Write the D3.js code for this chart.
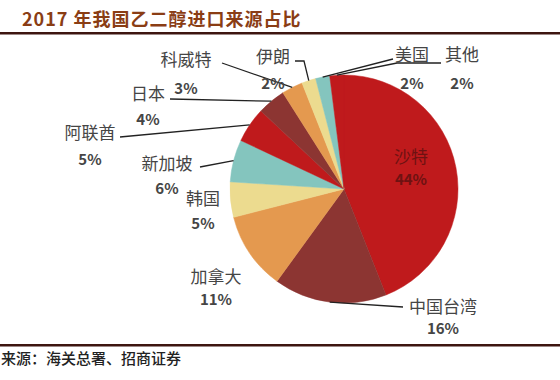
<!DOCTYPE html>
<html>
<head>
<meta charset="utf-8">
<script src="https://cdn.jsdelivr.net/npm/d3@7/dist/d3.min.js"></script>
<style>
  html, body { margin: 0; padding: 0; background: #fff; }
  svg { display: block; }
</style>
</head>
<body>
<svg id="chart" width="560" height="380"></svg>
<script>
// ---- data ----
const categories = ["沙特", "中国台湾", "加拿大", "韩国", "新加坡", "阿联酋", "日本", "科威特", "伊朗", "美国", "其他"];
const shares = [44, 16, 11, 5, 6, 5, 4, 3, 2, 2, 2];
const percentLabels = ["44%", "16%", "11%", "5%", "6%", "5%", "4%", "3%", "2%", "2%", "2%"];
const titleText = "2017 年我国乙二醇进口来源占比";
const sourceText = "来源：海关总署、招商证券";

// ---- styles / layout ----
const palette = ["#bf1a1c", "#8c3532", "#e4994f", "#ecdb8f", "#84c5be"];
const cx = 344, cy = 189, R = 114;
// label anchor (name centre) and optional leader polyline points near the label
const labelLayout = [
  {x: 411, y: 155, py: 178, color: "#6e1212", lead: null},
  {x: 443, y: 305, py: 327, lead: [[403, 307]]},
  {x: 216, y: 275, py: 298, lead: null},
  {x: 203, y: 197, py: 222, lead: null},
  {x: 167, y: 162, py: 187, lead: [[200, 167]]},
  {x: 90,  y: 131, py: 158, lead: [[120, 137]]},
  {x: 148, y: 92,  py: 118, lead: [[170, 99]]},
  {x: 186, y: 58,  py: 87,  lead: [[222, 63]]},
  {x: 273, y: 55,  py: 82,  lead: [[295, 61], [304, 61]]},
  {x: 412, y: 53,  py: 82,  lead: [[393, 59]]},
  {x: 462, y: 53,  py: 82,  lead: [[441, 63], [397, 63]]}
];

const svg = d3.select("#chart");

// title
svg.append("text")
  .attr("x", 22).attr("y", 18)
  .attr("dominant-baseline", "central")
  .attr("font-family", "'Noto Sans CJK SC', sans-serif")
  .attr("font-weight", "bold")
  .attr("font-size", 18)
  .attr("letter-spacing", 1)
  .attr("fill", "#8a3d14")
  .text(titleText);

svg.append("rect").attr("x", 0).attr("y", 32).attr("width", 560).attr("height", 2.5).attr("fill", "#3d1510");
svg.append("rect").attr("x", 0).attr("y", 344).attr("width", 560).attr("height", 2.5).attr("fill", "#3d1510");

svg.append("text")
  .attr("x", 1).attr("y", 357)
  .attr("dominant-baseline", "central")
  .attr("font-family", "'Noto Sans CJK SC', sans-serif")
  .attr("font-weight", 500)
  .attr("font-size", 15)
  .attr("fill", "#222")
  .text(sourceText);

// pie
const pie = d3.pie().sort(null).value(d => d.v);
const data = categories.map((c, i) => ({c, v: shares[i], p: percentLabels[i], i}));
const arcs = pie(data);
const arc = d3.arc().innerRadius(0).outerRadius(R);

const g = svg.append("g").attr("transform", `translate(${cx},${cy})`);
g.selectAll("path.slice").data(arcs).join("path")
  .attr("class", "slice")
  .attr("d", arc)
  .attr("fill", d => palette[d.index % palette.length])
  .attr("stroke", d => palette[d.index % palette.length])
  .attr("stroke-width", 0.5);

// leader lines
const line = d3.line();
arcs.forEach((a, i) => {
  const L = labelLayout[i];
  if (!L.lead) return;
  const mid = (a.startAngle + a.endAngle) / 2;
  const end = [cx + R * Math.sin(mid), cy - R * Math.cos(mid)];
  svg.append("path")
    .attr("d", line([...L.lead, end]))
    .attr("fill", "none")
    .attr("stroke", "#222")
    .attr("stroke-width", 1.3);
});

// labels
arcs.forEach((a, i) => {
  const L = labelLayout[i];
  const col = L.color || "#454545";
  svg.append("text")
    .attr("x", L.x).attr("y", L.y)
    .attr("text-anchor", "middle").attr("dominant-baseline", "central")
    .attr("font-family", "'Noto Sans CJK SC', sans-serif")
    .attr("font-size", 17)
    .attr("fill", col)
    .text(a.data.c);
  svg.append("text")
    .attr("x", L.x).attr("y", L.py)
    .attr("text-anchor", "middle").attr("dominant-baseline", "central")
    .attr("font-family", "'Noto Sans CJK SC', sans-serif")
    .attr("font-weight", 700)
    .attr("font-size", 15)
    .attr("fill", col)
    .text(a.data.p);
});
</script>
</body>
</html>
